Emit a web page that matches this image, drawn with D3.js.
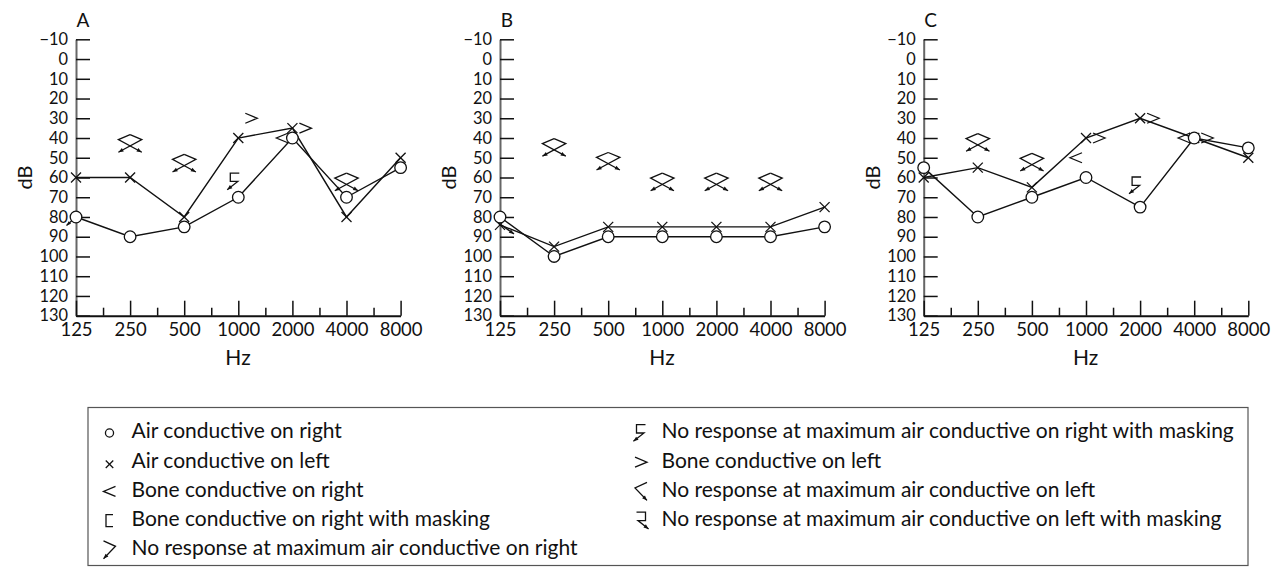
<!DOCTYPE html>
<html>
<head>
<meta charset="utf-8">
<script src="https://cdn.jsdelivr.net/npm/d3@7"></script>
<style>
    body { margin: 0; background: #fff; }
    svg text { font-family: Lato, "Open Sans", sans-serif; fill: #111; }
</style>
</head>
<body>
<svg id="chart" width="1279" height="568"></svg>
<script>

const FREQS = [125, 250, 500, 1000, 2000, 4000, 8000];
const FREQ_LABELS = ['125', '250', '500', '1000', '2000', '4000', '8000'];
const DB_TICKS = [-10, 0, 10, 20, 30, 40, 50, 60, 70, 80, 90, 100, 110, 120, 130];

// air conduction thresholds, one value per frequency
const airRightA = [80, 90, 85, 70, 40, 70, 55];
const airLeftA  = [60, 60, 80, 40, 35, 80, 50];
const airRightB = [80, 100, 90, 90, 90, 90, 85];
const airLeftB  = [84, 95, 85, 85, 85, 85, 75];
const airRightC = [55, 80, 70, 60, 75, 40, 45];
const airLeftC  = [60, 55, 65, 40, 30, 40, 50];

// other symbols: [frequency, dB]
const boneRightA = [[2000, 40]];
const boneLeftA  = [[1000, 30], [2000, 35]];
const noRespA    = [[250, 44], [500, 54], [4000, 63.5]];
const noRespMaskA = [[1000, 62]];
const arrowRightA = [[125, 80]];
const arrowLeftA  = [];

const boneRightB = [];
const boneLeftB  = [];
const noRespB    = [[250, 46], [500, 53], [1000, 63.5], [2000, 63.5], [4000, 63.5]];
const noRespMaskB = [];
const arrowRightB = [];
const arrowLeftB  = [[125, 84]];

const boneRightC = [[1000, 50], [4000, 40]];
const boneLeftC  = [[1000, 40], [2000, 30], [4000, 40]];
const noRespC    = [[250, 43.5], [500, 53.5]];
const noRespMaskC = [[2000, 64]];
const arrowRightC = [];
const arrowLeftC  = [];

const LEGEND_LEFT = [
    ['circle', 'Air conductive on right'],
    ['cross', 'Air conductive on left'],
    ['boneRight', 'Bone conductive on right'],
    ['boneRightMask', 'Bone conductive on right with masking'],
    ['nrRight', 'No response at maximum air conductive on right']
];
const LEGEND_RIGHT = [
    ['nrRightMask', 'No response at maximum air conductive on right with masking'],
    ['boneLeft', 'Bone conductive on left'],
    ['nrLeft', 'No response at maximum air conductive on left'],
    ['nrLeftMask', 'No response at maximum air conductive on left with masking']
];

const panels = [
    { name: 'A', airRight: airRightA, airLeft: airLeftA, boneRight: boneRightA, boneLeft: boneLeftA,
      noResp: noRespA, noRespMask: noRespMaskA, arrowRight: arrowRightA, arrowLeft: arrowLeftA },
    { name: 'B', airRight: airRightB, airLeft: airLeftB, boneRight: boneRightB, boneLeft: boneLeftB,
      noResp: noRespB, noRespMask: noRespMaskB, arrowRight: arrowRightB, arrowLeft: arrowLeftB },
    { name: 'C', airRight: airRightC, airLeft: airLeftC, boneRight: boneRightC, boneLeft: boneLeftC,
      noResp: noRespC, noRespMask: noRespMaskC, arrowRight: arrowRightC, arrowLeft: arrowLeftC }
];

const PANEL_X = [76, 500, 923.7];
const PLOT_W = 324.6;
const Y_TOP = 39.3, Y_BOTTOM = 315.7;
const STROKE = '#111';

const svg = d3.select('#chart');

function poly(g, pts, w) {
    g.append('path')
        .attr('d', d3.line()(pts))
        .attr('fill', 'none')
        .attr('stroke', STROKE)
        .attr('stroke-width', w || 1.3);
}

// small filled arrowhead at tip, pointing away from 'from'
function arrowHead(g, from, tip, len) {
    len = len || 5;
    var dx = tip[0] - from[0], dy = tip[1] - from[1];
    var d = Math.sqrt(dx * dx + dy * dy);
    var ux = dx / d, uy = dy / d;
    var bx = tip[0] - ux * len, by = tip[1] - uy * len;
    var w = len * 0.4;
    g.append('path')
        .attr('d', d3.line()([tip, [bx - uy * w, by + ux * w], [bx + uy * w, by - ux * w]]) + 'Z')
        .attr('fill', STROKE);
}

function drawSymbol(g, type, x, y, s) {
    s = s || 1;
    var P = (a, b) => [x + a * s, y + b * s];
    switch (type) {
        case 'circle':
            g.append('circle').attr('cx', x).attr('cy', y).attr('r', 5.8 * s)
                .attr('fill', '#fff').attr('stroke', STROKE).attr('stroke-width', 1.3);
            break;
        case 'cross':
            poly(g, [P(-5, -5), P(5, 5)]);
            poly(g, [P(-5, 5), P(5, -5)]);
            break;
        case 'boneRight':
            poly(g, [P(6, -5), P(-6, 0), P(6, 5)]);
            break;
        case 'boneLeft':
            poly(g, [P(-6, -5), P(6, 0), P(-6, 5)]);
            break;
        case 'boneRightMask':
            poly(g, [P(3.5, -6), P(-3.5, -6), P(-3.5, 6), P(3.5, 6)]);
            break;
        // panel form: the two no-response symbols drawn over one another
        case 'nrRightWide':
            poly(g, [P(0, -11.2), P(11.7, -6.3), P(-11.7, 6.3)]);
            arrowHead(g, P(11.7, -6.3), P(-11.7, 6.3));
            break;
        case 'nrLeftWide':
            poly(g, [P(0, -11.2), P(-11.7, -6.3), P(11.7, 6.3)]);
            arrowHead(g, P(-11.7, -6.3), P(11.7, 6.3));
            break;
        // legend form
        case 'nrRight':
            poly(g, [P(-6, -9), P(6, -3.5), P(-6, 9)]);
            arrowHead(g, P(6, -3.5), P(-6, 9), 5);
            break;
        case 'nrLeft':
            poly(g, [P(6, -9), P(-6, -3.5), P(6, 9)]);
            arrowHead(g, P(-6, -3.5), P(6, 9), 5);
            break;
        case 'nrRightMask':
            poly(g, [P(4.5, -8.4), P(-4.5, -8.4), P(-4.5, 0), P(3, 0), P(-7.6, 8.3)]);
            arrowHead(g, P(3, 0), P(-7.6, 8.3));
            break;
        case 'nrLeftMask':
            poly(g, [P(-4.5, -8.4), P(4.5, -8.4), P(4.5, 0), P(-3, 0), P(7.6, 8.3)]);
            arrowHead(g, P(-3, 0), P(7.6, 8.3));
            break;
        case 'arrowRight':
            poly(g, [P(-4, 3.5), P(-9.5, 8.5)]);
            arrowHead(g, P(-4, 3.5), P(-9.5, 8.5), 4.5);
            break;
        case 'arrowLeft':
            poly(g, [P(-1, -1.5), P(14, 9)]);
            arrowHead(g, P(-1, -1.5), P(14, 9), 5);
            break;
    }
}

panels.forEach(function (panel, i) {
    var x0 = PANEL_X[i];
    var x = d3.scaleLog().base(2).domain([125, 8000]).range([x0, x0 + PLOT_W]);
    var y = d3.scaleLinear().domain([-10, 130]).range([Y_TOP, Y_BOTTOM]);
    var g = svg.append('g').attr('class', 'panel');

    // y axis, ticks pointing inward
    var yAxis = d3.axisLeft(y).tickValues(DB_TICKS).tickSizeInner(-14).tickSizeOuter(0).tickPadding(8)
        .tickFormat(d => d < 0 ? '\u2212' + Math.abs(d) : d);
    var ya = g.append('g').attr('transform', 'translate(' + x0 + ',0)').call(yAxis);
    ya.select('.domain').attr('stroke', '#666').attr('stroke-width', 2);
    ya.selectAll('.tick line').attr('stroke', STROKE).attr('stroke-width', 1.5);
    ya.selectAll('text').attr('font-size', 16.4).attr('fill', '#111');

    // x axis, ticks pointing up
    var xAxis = d3.axisBottom(x).tickValues(FREQS).tickSizeInner(-15).tickSizeOuter(0).tickPadding(7)
        .tickFormat((d, k) => FREQ_LABELS[k]);
    var xa = g.append('g').attr('transform', 'translate(0,' + Y_BOTTOM + ')').call(xAxis);
    xa.select('.domain').attr('stroke', STROKE).attr('stroke-width', 2);
    xa.selectAll('.tick line').attr('stroke', STROKE).attr('stroke-width', 1.5);
    xa.selectAll('text').attr('font-size', 18.5).attr('fill', '#111');

    var minor = FREQS.slice(0, -1).map(f => f * Math.SQRT2);
    var xm = d3.axisBottom(x).tickValues(minor).tickSizeInner(-8).tickSizeOuter(0).tickFormat('');
    var xma = g.append('g').attr('transform', 'translate(0,' + Y_BOTTOM + ')').call(xm);
    xma.select('.domain').remove();
    xma.selectAll('.tick line').attr('stroke', STROKE).attr('stroke-width', 1.5);

    // titles
    g.append('text').attr('x', x0 + 7).attr('y', 27).attr('text-anchor', 'middle')
        .attr('font-size', 19).text(panel.name);
    g.append('text').attr('transform', 'translate(' + (x0 - 51) + ',' + y(60) + ') rotate(-90)')
        .attr('text-anchor', 'middle').attr('dy', '0.35em').attr('font-size', 20).text('dB');
    g.append('text').attr('x', x0 + 162).attr('y', 365).attr('text-anchor', 'middle')
        .attr('font-size', 21).text('Hz');

    // lines
    var line = d3.line().x((d, k) => x(FREQS[k])).y(d => y(d));
    [panel.airLeft, panel.airRight].forEach(function (vals) {
        g.append('path').attr('d', line(vals)).attr('fill', 'none')
            .attr('stroke', STROKE).attr('stroke-width', 1.4);
    });

    panel.noResp.forEach(function (d) {
        drawSymbol(g, 'nrRightWide', x(d[0]), y(d[1]));
        drawSymbol(g, 'nrLeftWide', x(d[0]), y(d[1]));
    });
    panel.noRespMask.forEach(d => drawSymbol(g, 'nrRightMask', x(d[0]) - 3.5, y(d[1])));
    panel.boneRight.forEach(d => drawSymbol(g, 'boneRight', x(d[0]) - 10, y(d[1])));
    panel.boneLeft.forEach(d => drawSymbol(g, 'boneLeft', x(d[0]) + 13, y(d[1])));
    panel.arrowRight.forEach(d => drawSymbol(g, 'arrowRight', x(d[0]), y(d[1])));
    panel.arrowLeft.forEach(d => drawSymbol(g, 'arrowLeft', x(d[0]), y(d[1])));

    panel.airLeft.forEach((v, k) => drawSymbol(g, 'cross', x(FREQS[k]), y(v)));
    panel.airRight.forEach((v, k) => drawSymbol(g, 'circle', x(FREQS[k]), y(v)));
});

// legend
var lg = svg.append('g').attr('class', 'legend');
lg.append('rect').attr('x', 88).attr('y', 407.5).attr('width', 1160).attr('height', 158)
    .attr('fill', 'none').attr('stroke', '#555').attr('stroke-width', 1.2);

var ROW_Y0 = 431, ROW_H = 29.2;
[[LEGEND_LEFT, 109.5, 131.5], [LEGEND_RIGHT, 641, 661.5]].forEach(function (col) {
    col[0].forEach(function (item, k) {
        var cy = ROW_Y0 + k * ROW_H;
        var s = item[0] === 'circle' ? 0.7 : (item[0] === 'cross' ? 0.75 : 1);
        drawSymbol(lg, item[0], col[1], cy + (item[0] === 'cross' ? 4 : 2), s);
        lg.append('text').attr('x', col[2]).attr('y', cy).attr('dy', '0.35em')
            .attr('font-size', 21).text(item[1]);
    });
});

</script>
</body>
</html>
